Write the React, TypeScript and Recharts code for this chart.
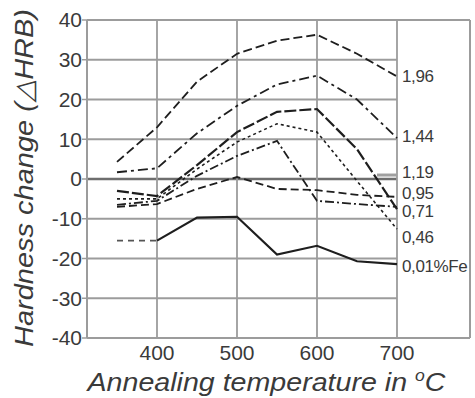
import React from 'react';
import { LineChart, Line, XAxis, YAxis, ReferenceLine, ReferenceDot, Label } from 'recharts';

const temperatures = [350, 400, 450, 500, 550, 600, 650, 700];
const fe196 = [4.3, 13, 24.5, 31.5, 34.8, 36.3, 31.5, 25.8];
const fe144 = [1.7, 2.7, 11.5, 18.4, 23.8, 26, 20, 10.3];
const fe119 = [-3, -4.3, 3.5, 11.8, 16.9, 17.6, 7.5, -7.6];
const fe095 = [-5, -5, 2.5, 9.3, 13.9, 11.8, -0.5, -12.6];
const fe071 = [-6.5, -5.5, 0.8, 5.8, 9.6, -5.5, -6.3, -7];
const fe046 = [-7, -6.3, -2.5, 0.5, -2.5, -2.8, -4, -4.5];
const fe001 = [null, -15.5, -9.7, -9.5, -19, -16.8, -20.7, -21.4];
const fe001Lead = [-15.5, -15.5, null, null, null, null, null, null];

const seriesLabels = ['1,96', '1,44', '1,19', '0,95', '0,71', '0,46', '0,01%Fe'];
const labelAnchors = [25.9, 10.6, 1.6, -3.6, -8.3, -14.6, -22];

const xTicks = [400, 500, 600, 700];
const yTicks = [-40, -30, -20, -10, 0, 10, 20, 30, 40];
const hGrid = [-30, -20, -10, 0, 10, 20, 30];
const X_MIN = 312.5;
const X_MAX = 791.25;

const data = temperatures.map((t, i) => ({
  t,
  fe196: fe196[i],
  fe144: fe144[i],
  fe119: fe119[i],
  fe095: fe095[i],
  fe071: fe071[i],
  fe046: fe046[i],
  fe001: fe001[i],
  fe001Lead: fe001Lead[i],
}));

const GRID = '#9c9c9c';
const INK = '#1e1e1e';
const TXT = '#3a3a3a';
const FONT = '"Liberation Sans", Arial, Helvetica, sans-serif';

const XTitle = (props: any) => {
  const vb = props.viewBox || {};
  const cx = vb.x + vb.width / 2 - 12;
  return (
    <text x={cx} y={391} textAnchor="middle" fontFamily={FONT} fontSize={26} fontStyle="italic" fill={TXT}
      textLength={358} lengthAdjust="spacingAndGlyphs">
      Annealing temperature in <tspan fontSize={16} dy={-10}>o</tspan><tspan dy={10}>C</tspan>
    </text>
  );
};

const YTitle = () => (
  <text x={33} y={178} transform="rotate(-90 33 178)" textAnchor="middle" fontFamily={FONT} fontSize={26}
    fontStyle="italic" fill={TXT} textLength={338} lengthAdjust="spacingAndGlyphs">
    Hardness change (△HRB)
  </text>
);

const SideLabel = (text: string) => (props: any) => {
  const vb = props.viewBox || {};
  return (
    <text x={vb.x + 5} y={vb.y} dominantBaseline="central" fontFamily={FONT} fontSize={17}
      letterSpacing={-0.4} fill={TXT}>
      {text}
    </text>
  );
};

export default function App() {
  return (
    <div style={{ position: 'absolute', left: 0, top: 0, background: '#fff' }}>
      <LineChart width={475} height={398} data={data} margin={{ top: 20, right: 5, bottom: 0, left: 0 }}>
        <XAxis
          dataKey="t"
          type="number"
          domain={[X_MIN, X_MAX]}
          ticks={xTicks}
          allowDataOverflow
          tickLine={false}
          tickSize={0}
          tickMargin={7}
          height={60}
          axisLine={{ stroke: GRID, strokeWidth: 2 }}
          tick={{ fontSize: 21, fill: TXT, fontFamily: FONT }}
        >
          <Label content={<XTitle />} />
        </XAxis>
        <YAxis
          type="number"
          domain={[-40, 40]}
          ticks={yTicks}
          width={87}
          tickSize={5}
          tickMargin={0}
          tickLine={{ stroke: GRID, strokeWidth: 1.5 }}
          axisLine={{ stroke: GRID, strokeWidth: 2 }}
          tick={{ fontSize: 21, fill: TXT, fontFamily: FONT }}
        >
          <Label content={<YTitle />} />
        </YAxis>

        {hGrid.map((v) => (
          <ReferenceLine
            key={'h' + v}
            segment={[{ x: X_MIN, y: v }, { x: 700, y: v }]}
            stroke={v === 0 ? '#6e6e6e' : GRID}
            strokeWidth={v === 0 ? 2.5 : 1.8}
          />
        ))}
        {xTicks.map((v) => (
          <ReferenceLine key={'v' + v} x={v} stroke={GRID} strokeWidth={1.8} />
        ))}
        <ReferenceLine y={40} stroke={GRID} strokeWidth={2} />
        <ReferenceLine x={X_MAX} stroke={GRID} strokeWidth={2} />
        <ReferenceLine segment={[{ x: 675, y: 1 }, { x: 700, y: 1 }]} stroke="#a0a0a0" strokeWidth={3} />

        <Line dataKey="fe196" stroke={INK} strokeWidth={1.8} strokeDasharray="9 4" dot={false} isAnimationActive={false} />
        <Line dataKey="fe144" stroke={INK} strokeWidth={1.8} strokeDasharray="10 4 3 4" dot={false} isAnimationActive={false} />
        <Line dataKey="fe119" stroke={INK} strokeWidth={2.2} strokeDasharray="12 3" dot={false} isAnimationActive={false} />
        <Line dataKey="fe095" stroke={INK} strokeWidth={1.6} strokeDasharray="3 3" dot={false} isAnimationActive={false} />
        <Line dataKey="fe071" stroke={INK} strokeWidth={1.8} strokeDasharray="9 3 2 3" dot={false} isAnimationActive={false} />
        <Line dataKey="fe046" stroke={INK} strokeWidth={1.8} strokeDasharray="8 4" dot={false} isAnimationActive={false} />
        <Line dataKey="fe001Lead" stroke="#555" strokeWidth={1.6} strokeDasharray="6 5" dot={false} isAnimationActive={false} />
        <Line dataKey="fe001" stroke={INK} strokeWidth={2.2} dot={false} isAnimationActive={false} />

        {seriesLabels.map((s, i) => (
          <ReferenceDot key={s} x={700} y={labelAnchors[i]} r={0} fill="none" stroke="none" label={SideLabel(s)} />
        ))}
      </LineChart>
    </div>
  );
}
